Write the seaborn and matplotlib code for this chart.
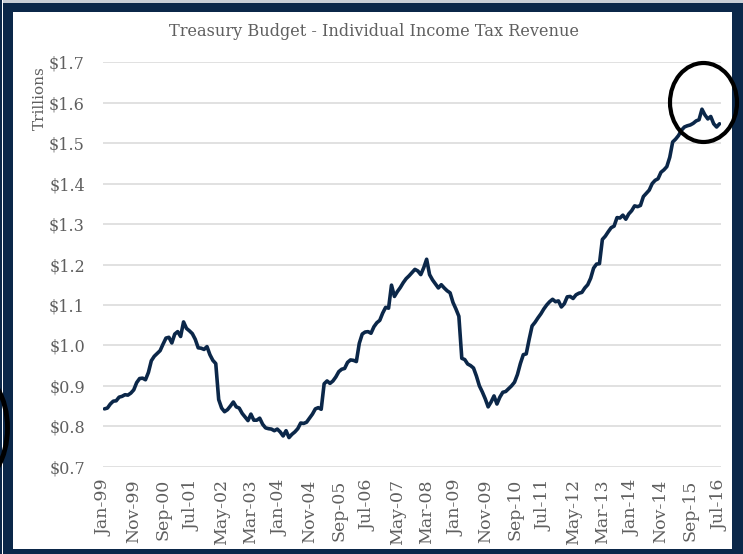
import matplotlib
matplotlib.use("Agg")
import matplotlib.pyplot as plt
from matplotlib.patches import Rectangle, Ellipse
import seaborn as sns
import pandas as pd

# Monthly individual income tax revenue, trillions of dollars (Jan-99 .. Jul-16)
revenue_trillions = [
    0.843, 0.845, 0.855, 0.862, 0.863, 0.872, 0.874, 0.878, 0.877, 0.882,
    0.890, 0.908, 0.918, 0.919, 0.915, 0.933, 0.962, 0.973, 0.980, 0.987,
    1.003, 1.018, 1.020, 1.006, 1.028, 1.034, 1.022, 1.058, 1.042, 1.036,
    1.029, 1.015, 0.994, 0.993, 0.990, 0.997, 0.977, 0.963, 0.955, 0.866,
    0.845, 0.836, 0.841, 0.850, 0.860, 0.848, 0.845, 0.832, 0.823, 0.814,
    0.830, 0.815, 0.815, 0.820, 0.805, 0.796, 0.794, 0.793, 0.789, 0.793,
    0.786, 0.776, 0.789, 0.772, 0.780, 0.786, 0.794, 0.808, 0.807, 0.810,
    0.820, 0.830, 0.843, 0.846, 0.842, 0.905, 0.912, 0.906, 0.912, 0.922,
    0.935, 0.941, 0.943, 0.958, 0.964, 0.963, 0.960, 1.005, 1.028, 1.033,
    1.034, 1.030, 1.046, 1.056, 1.062, 1.080, 1.094, 1.092, 1.149, 1.121,
    1.133, 1.143, 1.155, 1.165, 1.172, 1.180, 1.188, 1.184, 1.175, 1.192,
    1.213, 1.175, 1.162, 1.152, 1.142, 1.150, 1.142, 1.135, 1.130, 1.106,
    1.090, 1.072, 0.968, 0.965, 0.954, 0.950, 0.944, 0.924, 0.900, 0.885,
    0.868, 0.848, 0.860, 0.875, 0.855, 0.872, 0.884, 0.886, 0.893, 0.900,
    0.909, 0.928, 0.955, 0.977, 0.979, 1.015, 1.048, 1.057, 1.068, 1.078,
    1.090, 1.100, 1.108, 1.114, 1.108, 1.110, 1.095, 1.103, 1.120, 1.121,
    1.116, 1.125, 1.129, 1.131, 1.142, 1.150, 1.166, 1.191, 1.201, 1.202,
    1.262, 1.270, 1.281, 1.291, 1.295, 1.316, 1.315, 1.322, 1.312, 1.325,
    1.333, 1.345, 1.343, 1.346, 1.368, 1.376, 1.384, 1.400, 1.408, 1.412,
    1.428, 1.434, 1.442, 1.465, 1.503, 1.510, 1.519, 1.532, 1.540, 1.543,
    1.545, 1.549, 1.555, 1.558, 1.584, 1.570, 1.560, 1.566, 1.548, 1.540,
    1.548,
]
month_index = list(range(len(revenue_trillions)))

x_tick_positions = list(range(0, 211, 10))
x_tick_labels = [
    "Jan-99", "Nov-99", "Sep-00", "Jul-01", "May-02", "Mar-03", "Jan-04",
    "Nov-04", "Sep-05", "Jul-06", "May-07", "Mar-08", "Jan-09", "Nov-09",
    "Sep-10", "Jul-11", "May-12", "Mar-13", "Jan-14", "Nov-14", "Sep-15",
    "Jul-16",
]
y_ticks = [0.7, 0.8, 0.9, 1.0, 1.1, 1.2, 1.3, 1.4, 1.5, 1.6, 1.7]
y_tick_labels = ["$0.7", "$0.8", "$0.9", "$1.0", "$1.1", "$1.2", "$1.3",
                 "$1.4", "$1.5", "$1.6", "$1.7"]

title_text = "Treasury Budget - Individual Income Tax Revenue"
y_axis_text = "Trillions"

NAVY = "#0b2749"
TEXT_GRAY = "#5f5f5f"
GRID_GRAY = "#d9d9d9"

sns.set_style("white")
plt.rcParams["font.family"] = ["DejaVu Serif"]

W, H = 743, 554
fig = plt.figure(figsize=(W / 100, H / 100), dpi=100)
fig.patch.set_facecolor(NAVY)


def px_rect(x0, y0_top, x1, y1_top, color, z=-10):
    """Rectangle given in pixel coordinates measured from the top-left."""
    fig.add_artist(Rectangle((x0 / W, 1 - y1_top / H), (x1 - x0) / W,
                             (y1_top - y0_top) / H, transform=fig.transFigure,
                             facecolor=color, edgecolor="none", zorder=z))


# frame: thin outer stripe, white gap, wide navy border, white interior
px_rect(1.7, 0, 3.3, H, "white")
px_rect(3.3, 0, W, 3.3, "#c9ced6")
px_rect(13, 12, 732, 549, "white")

ax = fig.add_axes([103 / W, 1 - 466.7 / H, (721 - 103) / W, (466.7 - 62.3) / H])
ax.set_facecolor("white")

df = pd.DataFrame({"month": month_index, "revenue": revenue_trillions})
sns.lineplot(data=df, x="month", y="revenue", ax=ax, color=NAVY,
             linewidth=2.6, zorder=3)

ax.set_xlim(-0.5, 210.5)
ax.set_ylim(0.7, 1.7)
ax.set_yticks(y_ticks)
ax.set_yticklabels(y_tick_labels)
ax.set_xticks(x_tick_positions)
ax.set_xticklabels(x_tick_labels, rotation=90)
ax.set_xlabel("")
ax.set_ylabel("")
ax.yaxis.grid(True, color=GRID_GRAY, linewidth=1.1)
ax.xaxis.grid(False)
ax.set_axisbelow(True)
for side in ax.spines.values():
    side.set_visible(False)
ax.tick_params(axis="y", length=0, pad=13, labelsize=11.5, labelcolor=TEXT_GRAY)
ax.tick_params(axis="x", length=0, pad=9, labelsize=12.5, labelcolor=TEXT_GRAY)

fig.text(374 / W, 1 - 31 / H, title_text, ha="center", va="center",
         fontsize=11.6, color=TEXT_GRAY)
fig.text(40 / W, 1 - 98 / H, y_axis_text, ha="center", va="center",
         rotation=90, fontsize=11, color=TEXT_GRAY)

# hand-drawn highlight rings
fig.add_artist(Ellipse((703.5 / W, 1 - 102.5 / H), 67 / W, 79 / H,
                       transform=fig.transFigure, fill=False,
                       edgecolor="black", linewidth=3, zorder=10))
fig.add_artist(Ellipse((-26 / W, 1 - 428 / H), 67 / W, 111 / H,
                       transform=fig.transFigure, fill=False,
                       edgecolor="black", linewidth=3.5, zorder=10))

fig.savefig("out.png", dpi=100, facecolor=fig.get_facecolor())
